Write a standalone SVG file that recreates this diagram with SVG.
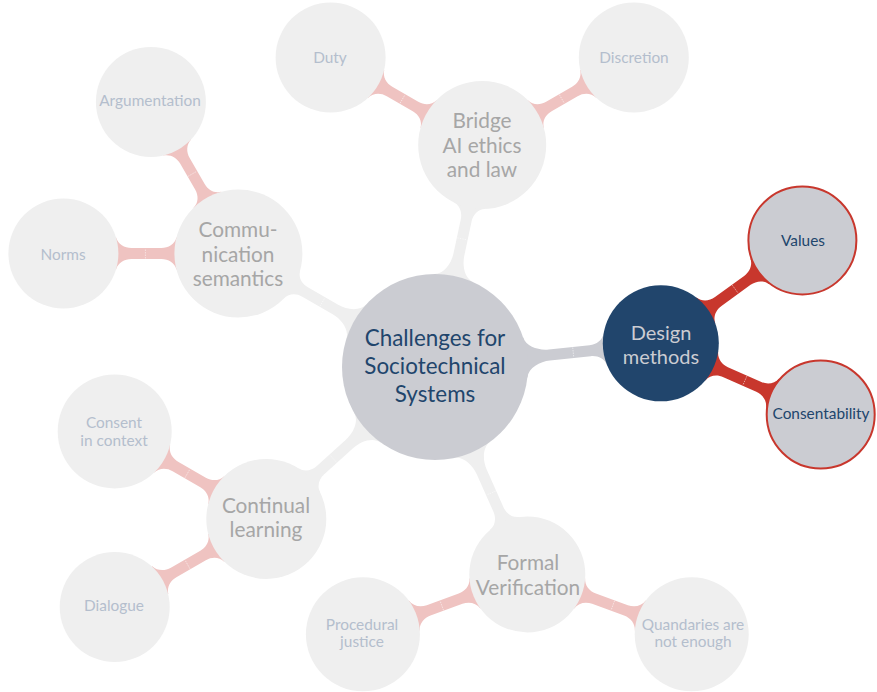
<svg xmlns="http://www.w3.org/2000/svg" width="877" height="692" viewBox="0 0 877 692">
<style>
  text { font-family: Lato, "Open Sans", "DejaVu Sans", sans-serif; text-anchor: middle; }
  .tick { stroke: #ffffff; stroke-width: 0.7; stroke-dasharray: 1.5 1; opacity: 0.7; }
  .b-gray { fill: #cbccd2; }
  .b-red { fill: #c8372d; }
  .b-fade { fill: #efefef; }
  .b-pink { fill: #efc3c1; }
  .root { fill: #cbccd2; }
  .root-t { fill: #21456c; font-size: 22.4px; }
  .dm { fill: #21456c; }
  .dm-t { fill: #cbccd2; font-size: 20px; }
  .act2 { fill: #cbccd2; stroke: #c8372d; stroke-width: 2; }
  .act2-t { fill: #21456c; font-size: 15.4px; }
  .f1 { fill: #efefef; }
  .f1-t { fill: #a6a6a6; font-size: 20.8px; }
  .f2 { fill: #efefef; }
  .f2-t { fill: #b4becd; font-size: 15.4px; }
</style>
<defs>
  <path id="e-root58" d="M0,0 L90.82,20 C92.97,10.23 105,5.5 115,5.5 L156,5.5 C163,5.5 169.32,9.27 171.25,16 L227,0 L171.25,-16 C169.32,-9.27 163,-5.5 156,-5.5 L115,-5.5 C105,-5.5 92.97,-10.23 90.82,-20 Z"/>
  <path id="e-root64" d="M0,0 L90.82,20 C92.97,10.23 105,5.5 115,5.5 L150,5.5 C157,5.5 163.28,9.22 165.03,16 L227,0 L165.03,-16 C163.28,-9.22 157,-5.5 150,-5.5 L115,-5.5 C105,-5.5 92.97,-10.23 90.82,-20 Z"/>
  <path id="e-root60" d="M0,0 L90.82,20 C92.97,10.23 105,5.5 115,5.5 L154,5.5 C161,5.5 167.30,9.25 169.17,16 L227,0 L169.17,-16 C167.30,-9.25 161,-5.5 154,-5.5 L115,-5.5 C105,-5.5 92.97,-10.23 90.82,-20 Z"/>
  <path id="e-58-55" d="M0,0 L55.75,16 C57.68,9.27 64,5.5 71,5.5 L107,5.5 C114,5.5 120.34,9.30 122.38,16 L175,0 L122.38,-16 C120.34,-9.30 114,-5.5 107,-5.5 L71,-5.5 C64,-5.5 57.68,-9.27 55.75,-16 Z"/>
  <path id="e-64-55" d="M0,0 L61.97,16 C63.72,9.22 70,5.5 77,5.5 L107,5.5 C114,5.5 120.34,9.30 122.38,16 L175,0 L122.38,-16 C120.34,-9.30 114,-5.5 107,-5.5 L77,-5.5 C70,-5.5 63.72,-9.22 61.97,-16 Z"/>
  <path id="e-60-57" d="M0,0 L57.83,16 C59.70,9.25 66,5.5 73,5.5 L105,5.5 C112,5.5 118.32,9.28 120.29,16 L175,0 L120.29,-16 C118.32,-9.28 112,-5.5 105,-5.5 L73,-5.5 C66,-5.5 59.70,-9.25 57.83,-16 Z"/>
  <path id="e-60-55" d="M0,0 L57.83,16 C59.70,9.25 66,5.5 73,5.5 L107,5.5 C114,5.5 120.34,9.30 122.38,16 L175,0 L122.38,-16 C120.34,-9.30 114,-5.5 107,-5.5 L73,-5.5 C66,-5.5 59.70,-9.25 57.83,-16 Z"/>
  <path id="e-58-57" d="M0,0 L55.75,16 C57.68,9.27 64,5.5 71,5.5 L105,5.5 C112,5.5 118.32,9.28 120.29,16 L175,0 L120.29,-16 C118.32,-9.28 112,-5.5 105,-5.5 L71,-5.5 C64,-5.5 57.68,-9.27 55.75,-16 Z"/>
</defs>

<g id="connectors">
  <!-- root to level 1 -->
  <g transform="translate(435,367) rotate(-6)"><use href="#e-root58" class="b-gray"/><line class="tick" x1="139" y1="-5" x2="139" y2="5"/></g>
  <g transform="translate(435,367) rotate(-78)"><use href="#e-root64" class="b-fade"/><line class="tick" x1="131" y1="-5" x2="131" y2="5"/></g>
  <g transform="translate(435,367) rotate(-150)"><use href="#e-root64" class="b-fade"/><line class="tick" x1="130" y1="-5" x2="130" y2="5"/></g>
  <g transform="translate(435,367) rotate(138)"><use href="#e-root60" class="b-fade"/><line class="tick" x1="137" y1="-5" x2="137" y2="5"/></g>
  <g transform="translate(435,367) rotate(66)"><use href="#e-root58" class="b-fade"/><line class="tick" x1="138" y1="-5" x2="138" y2="5"/></g>
  <!-- level 1 to level 2 -->
  <g transform="translate(660.8,343.3) rotate(-36)"><use href="#e-58-55" class="b-red"/><line class="tick" x1="92" y1="-5" x2="92" y2="5"/></g>
  <g transform="translate(660.8,343.3) rotate(24)"><use href="#e-58-55" class="b-red"/><line class="tick" x1="92" y1="-5" x2="92" y2="5"/></g>
  <g transform="translate(482.2,145) rotate(-150)"><use href="#e-64-55" class="b-pink"/><line class="tick" x1="92" y1="-5" x2="92" y2="5"/></g>
  <g transform="translate(482.2,145) rotate(-30)"><use href="#e-64-55" class="b-pink"/><line class="tick" x1="92" y1="-5" x2="92" y2="5"/></g>
  <g transform="translate(238.4,253.5) rotate(-120)"><use href="#e-64-55" class="b-pink"/><line class="tick" x1="92" y1="-5" x2="92" y2="5"/></g>
  <g transform="translate(238.4,253.5) rotate(180)"><use href="#e-64-55" class="b-pink"/><line class="tick" x1="93" y1="-5" x2="93" y2="5"/></g>
  <g transform="translate(266.3,518.9) rotate(-150)"><use href="#e-60-57" class="b-pink"/><line class="tick" x1="91" y1="-5" x2="91" y2="5"/></g>
  <g transform="translate(266.3,518.9) rotate(150)"><use href="#e-60-55" class="b-pink"/><line class="tick" x1="91" y1="-5" x2="91" y2="5"/></g>
  <g transform="translate(527.3,574.4) rotate(160)"><use href="#e-58-57" class="b-pink"/><line class="tick" x1="91" y1="-5" x2="91" y2="5"/></g>
  <g transform="translate(527.3,574.4) rotate(20)"><use href="#e-58-57" class="b-pink"/><line class="tick" x1="91" y1="-5" x2="91" y2="5"/></g>
</g>

<g id="root">
  <circle class="root" cx="435" cy="367" r="93"/>
  <text class="root-t" x="435" y="346">Challenges for</text>
  <text class="root-t" x="435" y="374">Sociotechnical</text>
  <text class="root-t" x="435" y="402">Systems</text>
</g>

<g id="design-methods">
  <circle class="dm" cx="660.8" cy="343.3" r="58"/>
  <text class="dm-t" x="661" y="340">Design</text>
  <text class="dm-t" x="661" y="364">methods</text>
</g>
<g id="values">
  <circle class="act2" cx="802.4" cy="240.4" r="54"/>
  <text class="act2-t" x="803" y="246">Values</text>
</g>
<g id="consentability">
  <circle class="act2" cx="820.7" cy="414.5" r="54"/>
  <text class="act2-t" x="821" y="419">Consentability</text>
</g>

<g id="bridge">
  <circle class="f1" cx="482.2" cy="145" r="64"/>
  <text class="f1-t" x="482" y="128">Bridge</text>
  <text class="f1-t" x="482" y="153">AI ethics</text>
  <text class="f1-t" x="482" y="177">and law</text>
</g>
<g id="duty">
  <circle class="f2" cx="330.6" cy="57.5" r="55"/>
  <text class="f2-t" x="330" y="63">Duty</text>
</g>
<g id="discretion">
  <circle class="f2" cx="633.8" cy="57.5" r="55"/>
  <text class="f2-t" x="634" y="63">Discretion</text>
</g>

<g id="communication">
  <circle class="f1" cx="238.4" cy="253.5" r="64"/>
  <text class="f1-t" x="238" y="237">Commu-</text>
  <text class="f1-t" x="238" y="262">nication</text>
  <text class="f1-t" x="238" y="286">semantics</text>
</g>
<g id="argumentation">
  <circle class="f2" cx="150.9" cy="101.9" r="55"/>
  <text class="f2-t" x="150" y="106">Argumentation</text>
</g>
<g id="norms">
  <circle class="f2" cx="63.4" cy="253.5" r="55"/>
  <text class="f2-t" x="63" y="260">Norms</text>
</g>

<g id="continual-learning">
  <circle class="f1" cx="266.3" cy="518.9" r="60"/>
  <text class="f1-t" x="266" y="513">Continual</text>
  <text class="f1-t" x="266" y="537">learning</text>
</g>
<g id="consent-in-context">
  <circle class="f2" cx="114.7" cy="431.4" r="57"/>
  <text class="f2-t" x="114" y="428">Consent</text>
  <text class="f2-t" x="114" y="446">in context</text>
</g>
<g id="dialogue">
  <circle class="f2" cx="114.7" cy="607" r="55"/>
  <text class="f2-t" x="114" y="611">Dialogue</text>
</g>

<g id="formal-verification">
  <circle class="f1" cx="527.3" cy="574.4" r="58"/>
  <text class="f1-t" x="528" y="570">Formal</text>
  <text class="f1-t" x="528" y="595">Verification</text>
</g>
<g id="procedural-justice">
  <circle class="f2" cx="362.9" cy="634.3" r="57"/>
  <text class="f2-t" x="362" y="630">Procedural</text>
  <text class="f2-t" x="362" y="647">justice</text>
</g>
<g id="quandaries">
  <circle class="f2" cx="691.7" cy="634.3" r="57"/>
  <text class="f2-t" x="693" y="630">Quandaries are</text>
  <text class="f2-t" x="693" y="647">not enough</text>
</g>
</svg>
